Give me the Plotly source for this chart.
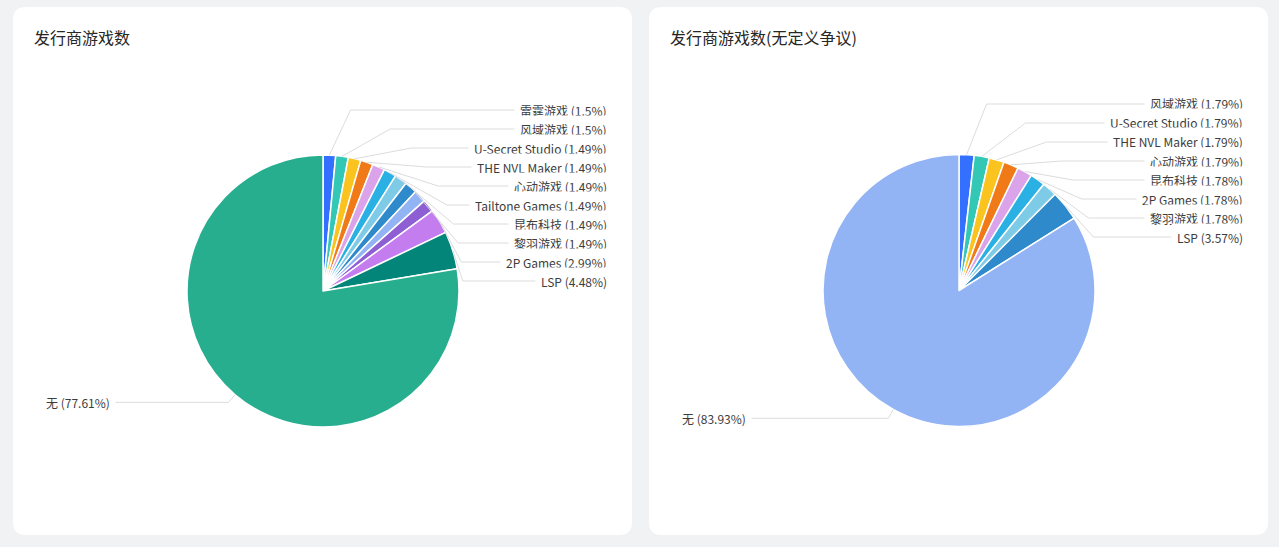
import math
import plotly.graph_objects as go

# ---------------- data ----------------
left_title = "发行商游戏数"
left_names = ["雷霆游戏", "风域游戏", "U-Secret Studio", "THE NVL Maker", "心动游戏",
              "Tailtone Games", "昆布科技", "黎羽游戏", "其他发行商A", "其他发行商B",
              "2P Games", "LSP", "无"]
left_values = [1, 1, 1, 1, 1, 1, 1, 1, 1, 1, 2, 3, 52]

right_title = "发行商游戏数(无定义争议)"
right_names = ["风域游戏", "U-Secret Studio", "THE NVL Maker", "心动游戏", "昆布科技",
               "2P Games", "黎羽游戏", "LSP", "无"]
right_values = [1, 1, 1, 1, 1, 1, 1, 2, 47]

# ---------------- style / layout ----------------
W, H = 1279, 547
PAGE_BG = "#f1f2f4"
PALETTE = ["#3370FF", "#33C7B5", "#FBC31E", "#F07A17", "#DBA3EA", "#2BB0E3",
           "#7ECBE8", "#2E8ACB", "#93B4F4", "#8E5FD3", "#C47DEE", "#03857A", "#26AE8E"]
FONT = "Noto Sans CJK SC, Microsoft YaHei, sans-serif"
LINE_COLOR = "#dcdcdc"

panels = [
    dict(title=left_title, names=left_names, values=left_values,
         card=(13, 7, 632, 535), cx=323, cy=291, r=136,
         label_top=110, label_step=19, hidden=[8, 9]),
    dict(title=right_title, names=right_names, values=right_values,
         card=(649, 7, 1268, 535), cx=959, cy=290.5, r=136,
         label_top=104, label_step=19, hidden=[]),
]


def px(x):
    return x / W


def py(y):
    return 1 - y / H


def percents(values, precision=2):
    """Largest remainder rounding (like ECharts)."""
    total = sum(values)
    digits = 10 ** precision
    seats = [v / total * 100 * digits for v in values]
    floors = [math.floor(s) for s in seats]
    rem = [s - f for s, f in zip(seats, floors)]
    need = 100 * digits - sum(floors)
    while need > 0:
        m = max(rem)
        i = rem.index(m)
        floors[i] += 1
        rem[i] = -1
        need -= 1
    out = []
    for f in floors:
        s = ("%.2f" % (f / digits)).rstrip("0").rstrip(".")
        out.append(s)
    return out


def rounded_rect(x0, y0, x1, y1, rad):
    X = lambda v: px(v)
    Y = lambda v: py(v)
    return (f"M {X(x0+rad)} {Y(y0)} L {X(x1-rad)} {Y(y0)} Q {X(x1)} {Y(y0)} {X(x1)} {Y(y0+rad)} "
            f"L {X(x1)} {Y(y1-rad)} Q {X(x1)} {Y(y1)} {X(x1-rad)} {Y(y1)} "
            f"L {X(x0+rad)} {Y(y1)} Q {X(x0)} {Y(y1)} {X(x0)} {Y(y1-rad)} "
            f"L {X(x0)} {Y(y0+rad)} Q {X(x0)} {Y(y0)} {X(x0+rad)} {Y(y0)} Z")


fig = go.Figure()
shapes = []
annotations = []

for p in panels:
    x0, y0, x1, y1 = p["card"]
    shapes.append(dict(type="path", path=rounded_rect(x0, y0, x1, y1, 13),
                       xref="paper", yref="paper", fillcolor="white",
                       line=dict(width=0), layer="below"))
    annotations.append(dict(text=p["title"], x=px(x0 + 19), y=py(37), xref="paper", yref="paper",
                            xanchor="left", yanchor="middle", showarrow=False,
                            font=dict(size=16, color="#262626", family=FONT)))

    cx, cy, r = p["cx"], p["cy"], p["r"]
    vals = p["values"]
    names = p["names"]
    fig.add_trace(go.Pie(
        labels=names, values=vals, sort=False, direction="clockwise", rotation=0,
        marker=dict(colors=PALETTE[:len(vals)], line=dict(color="white", width=1.5)),
        textinfo="none", hoverinfo="label+value+percent", showlegend=False,
        domain=dict(x=[px(cx - r), px(cx + r)], y=[py(cy + r), py(cy - r)]),
    ))

    pcts = percents(vals)
    total = sum(vals)
    cum = 0
    mids = []
    for v in vals:
        mids.append((cum + v / 2) / total * 2 * math.pi)
        cum += v

    right_edge = x1 - 24
    left_edge = x0 + 32
    pad = 5
    shown_right = [i for i in range(len(vals)) if mids[i] < math.pi and i not in p["hidden"]]
    shown_left = [i for i in range(len(vals)) if mids[i] >= math.pi and i not in p["hidden"]]

    rA = r + 4
    dy_top = cy - p["label_top"]
    rB = dy_top * 1.02
    for k, i in enumerate(shown_right):
        th = mids[i]
        ly = p["label_top"] + k * p["label_step"]
        dy = abs(ly - cy)
        dx = rA * math.sqrt(max(0.0, 1 - (dy / rB) ** 2))
        ex = cx + dx
        sx, sy = cx + r * math.sin(th), cy - r * math.cos(th)
        shapes.append(dict(type="path", xref="paper", yref="paper", layer="above",
                           path=f"M {px(sx)} {py(sy)} L {px(ex)} {py(ly)} L {px(right_edge)} {py(ly)}",
                           line=dict(color=LINE_COLOR, width=1)))
        annotations.append(dict(text=f"{names[i]} ({pcts[i]}%)", x=px(right_edge + pad), y=py(ly),
                                xref="paper", yref="paper", xanchor="right", yanchor="middle",
                                showarrow=False, bgcolor="white", borderpad=pad,
                                font=dict(size=12, color="#3d3d3d", family=FONT)))
    for i in shown_left:
        th = mids[i]
        sx, sy = cx + r * math.sin(th), cy - r * math.cos(th)
        ex, ly = cx + (r + 10) * math.sin(th), cy - (r + 10) * math.cos(th)
        shapes.append(dict(type="path", xref="paper", yref="paper", layer="above",
                           path=f"M {px(sx)} {py(sy)} L {px(ex)} {py(ly)} L {px(left_edge)} {py(ly)}",
                           line=dict(color=LINE_COLOR, width=1)))
        annotations.append(dict(text=f"{names[i]} ({pcts[i]}%)", x=px(left_edge - pad), y=py(ly),
                                xref="paper", yref="paper", xanchor="left", yanchor="middle",
                                showarrow=False, bgcolor="white", borderpad=pad,
                                font=dict(size=12, color="#3d3d3d", family=FONT)))

fig.update_layout(width=W, height=H, margin=dict(l=0, r=0, t=0, b=0),
                  paper_bgcolor=PAGE_BG, plot_bgcolor=PAGE_BG,
                  shapes=shapes, annotations=annotations,
                  font=dict(family=FONT))
fig.write_html("out.html")
